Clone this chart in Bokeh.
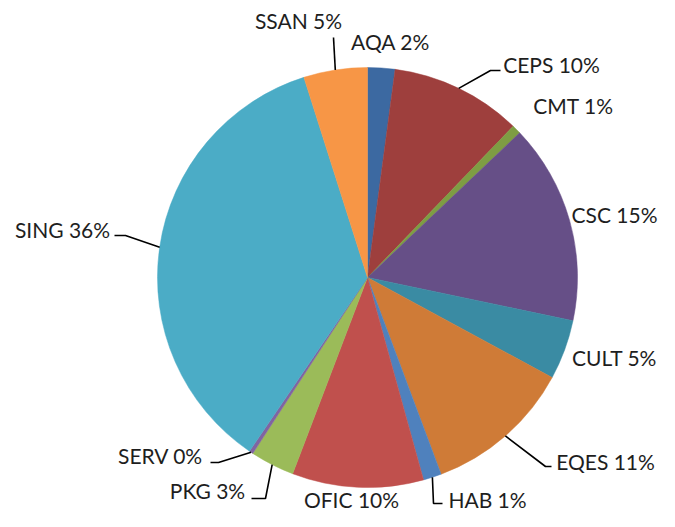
import math
from bokeh.plotting import figure
from bokeh.models import Range1d, ColumnDataSource
from bokeh.embed import file_html
from bokeh.resources import INLINE
from bokeh.core.properties import value

# ---- data ----
categories = ["AQA", "CEPS", "CMT", "CSC", "CULT", "EQES", "HAB", "OFIC", "PKG", "SERV", "SING", "SSAN"]
shares = [2.1, 10.1, 0.7, 15.4, 4.6, 11.4, 1.4, 10.1, 3.4, 0.3, 35.6, 4.9]
colors = ["#3C69A1", "#9E3F3D", "#7E9D43", "#664F87", "#3A8BA3", "#CF7B37",
          "#4F81BD", "#C0504D", "#9BBB59", "#8064A2", "#4BACC6", "#F79646"]

# ---- layout (picture pixel coordinates, y downward) ----
PLOT_W, PLOT_H = 659, 511
CX, CY, R = 367, 277, 210
label_center = {
    "SSAN": (298, 20), "AQA": (390, 41), "CEPS": (551, 64), "CMT": (573, 105),
    "CSC": (614, 214), "CULT": (614, 357), "EQES": (605, 461), "HAB": (487, 499),
    "OFIC": (351, 499), "PKG": (207, 490), "SERV": (160, 455), "SING": (62, 229),
}
leader_elbow = {
    "SSAN": [(333, 37)],
    "CEPS": [(490, 70), (500, 70)],
    "EQES": [(545, 466), (551, 466)],
    "HAB": [(433, 503), (442, 503)],
    "PKG": [(265, 498), (251, 498)],
    "SERV": [(218, 462), (210, 462)],
    "SING": [(125, 235), (114, 235)],
}

def fy(y):
    return PLOT_H - y

total = sum(shares)
starts, ends, mids = [], [], []
acc = 0.0
for s in shares:
    f0 = acc / total
    acc += s
    f1 = acc / total
    starts.append(math.pi / 2 - 2 * math.pi * f0)
    ends.append(math.pi / 2 - 2 * math.pi * f1)
    mids.append(2 * math.pi * (f0 + f1) / 2)  # clockwise from north

src = ColumnDataSource(dict(cat=categories, start=starts, end=ends, color=colors))

p = figure(width=PLOT_W, height=PLOT_H, x_range=Range1d(0, PLOT_W), y_range=Range1d(0, PLOT_H),
           output_backend="svg", toolbar_location=None, min_border=0)
p.axis.visible = False
p.grid.visible = False
p.outline_line_color = None
p.background_fill_color = "white"

p.wedge(x=CX, y=fy(CY), radius=R, start_angle="start", end_angle="end",
        direction="clock", fill_color="color", line_color="color", line_width=0.5,
        source=src)

# leader lines
lx, ly = [], []
for cat, th in zip(categories, mids):
    if cat not in leader_elbow:
        continue
    ex = CX + R * math.sin(th)
    ey = CY - R * math.cos(th)
    pts = [(ex, ey)] + leader_elbow[cat]
    lx.append([pt[0] for pt in pts])
    ly.append([fy(pt[1]) for pt in pts])
p.multi_line(xs=lx, ys=ly, line_color="#000000", line_width=1.6)

# labels
texts, tx, ty = [], [], []
for cat, s in zip(categories, shares):
    pct = round(s / total * 100)
    texts.append(f"{cat} {pct}%")
    tx.append(label_center[cat][0])
    ty.append(fy(label_center[cat][1]))
p.text(x=tx, y=ty, text=texts, text_align="center", text_baseline="middle",
       text_font=value("Lato"), text_font_size="21px", text_color="#1e1e1e")

open("out.html", "w").write(file_html(p, INLINE))
